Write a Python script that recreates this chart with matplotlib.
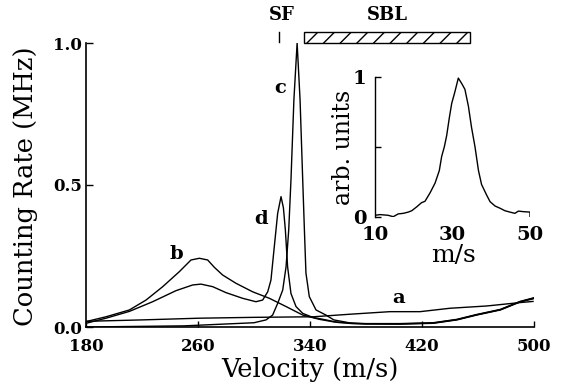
import matplotlib
matplotlib.use("Agg")
import matplotlib.pyplot as plt
from matplotlib.patches import Rectangle

# ---- data ----
a_v = [180, 220, 261, 300, 342.4, 368.6, 397.1, 418.6, 440, 466.2, 490, 499.3]
a_y = [0.020, 0.025, 0.031, 0.034, 0.036, 0.045, 0.054, 0.054, 0.066, 0.074, 0.086, 0.090]

b_v = [180, 194.3, 211, 222.9, 234.8, 246.7, 255, 261, 266.9, 271.7, 277.6, 287.1,
       299, 311, 322.9, 334.8, 346.7, 357, 370, 380, 404, 428, 445, 459, 476, 490, 500]
b_y = [0.019, 0.036, 0.060, 0.095, 0.142, 0.195, 0.236, 0.242, 0.236, 0.210, 0.183, 0.154,
       0.124, 0.101, 0.072, 0.042, 0.027, 0.018, 0.014, 0.012, 0.012, 0.015, 0.027, 0.044,
       0.062, 0.090, 0.103]

c_v = [180, 250, 300, 308.6, 313.3, 316.9, 320.5, 322.9, 324.8, 326.4, 328.5, 330.8,
       332.9, 334.8, 336, 337.1, 339.5, 344.3, 351.4, 357, 370, 380, 404, 428, 445,
       459, 476, 490, 500]
c_y = [0.000, 0.004, 0.015, 0.025, 0.042, 0.083, 0.130, 0.212, 0.342, 0.517, 0.800, 1.000,
       0.800, 0.517, 0.342, 0.190, 0.107, 0.060, 0.042, 0.025, 0.013, 0.011, 0.010, 0.013,
       0.025, 0.042, 0.060, 0.088, 0.100]

d_v = [180, 194.3, 211, 227.6, 244.3, 256.2, 262.1, 270.5, 280, 291.9, 301.4, 306.2,
       309.8, 312.1, 314.5, 316.9, 319.3, 321, 322.4, 324, 326.4, 330, 334.8, 341.9,
       351.4, 360, 370, 380, 404, 428, 445, 459, 476, 490, 500]
d_y = [0.013, 0.031, 0.055, 0.089, 0.128, 0.148, 0.151, 0.142, 0.121, 0.101, 0.089, 0.095,
       0.124, 0.165, 0.283, 0.400, 0.459, 0.420, 0.342, 0.212, 0.118, 0.072, 0.048, 0.034,
       0.025, 0.016, 0.012, 0.011, 0.011, 0.014, 0.026, 0.043, 0.061, 0.089, 0.102]

inset_v = [10, 11.3, 13.4, 14.7, 16, 17.3, 18.6, 19.5, 20.75, 22, 22.9, 24.2, 25.5, 26.6,
           27.2, 27.9, 28.5, 29.2, 29.8, 30.6, 31.5, 32.4, 33.2, 34.1, 34.9, 35.8, 36.7,
           37.5, 38.8, 39.7, 41, 42.3, 43.5, 44.8, 46.1, 47, 48.3, 50, 50]
inset_y = [0.01, 0.015, 0.01, 0.0, 0.02, 0.024, 0.033, 0.043, 0.07, 0.10, 0.11, 0.17,
           0.24, 0.33, 0.43, 0.50, 0.58, 0.71, 0.81, 0.89, 0.99, 0.95, 0.91, 0.79, 0.64,
           0.50, 0.33, 0.23, 0.155, 0.107, 0.076, 0.06, 0.043, 0.033, 0.024, 0.04, 0.036,
           0.033, 0.0]

x_ticks = [180, 260, 340, 420, 500]
y_ticks = [0.0, 0.5, 1.0]
y_ticklabels = ["0.0", "0.5", "1.0"]
inset_xticks = [10, 30, 50]
inset_yticks = [0, 0.5, 1]
inset_yticklabels = ["0", "", "1"]

curve_labels = {"a": (403, 0.101), "b": (244.3, 0.257), "c": (319, 0.843), "d": (305, 0.379)}
sf_pos = 318
sbl_range = (336, 454)

# ---- figure ----
serif = "DejaVu Serif"
plt.rcParams["font.family"] = serif
plt.rcParams["hatch.linewidth"] = 1.0

fig = plt.figure(figsize=(5.63, 3.87), dpi=100)
ax = fig.add_axes([86/563, 1-327/387, (534-86)/563, (327-43)/387])

lw = 1.0
for v, y in [(a_v, a_y), (b_v, b_y), (c_v, c_y), (d_v, d_y)]:
    ax.plot(v, y, color="black", lw=lw)

ax.set_xlim(180, 500)
ax.set_ylim(0, 1.0)
ax.spines["top"].set_visible(False)
ax.spines["right"].set_visible(False)
for s in ["left", "bottom"]:
    ax.spines[s].set_linewidth(1.2)
ax.set_xticks(x_ticks)
ax.set_xticklabels([str(t) for t in x_ticks], fontweight="bold", fontsize=12)
ax.set_yticks(y_ticks)
ax.set_yticklabels(y_ticklabels, fontweight="bold", fontsize=12)
ax.tick_params(axis="x", direction="in", length=4.5, width=1.0, pad=8)
ax.tick_params(axis="y", direction="in", length=5, width=1.0, pad=3)

fig.text(310/563, 1-370/387, "Velocity (m/s)", ha="center", va="center", fontsize=18.5)
fig.text(26/563, 1-186/387, "Counting Rate (MHz)", ha="center", va="center",
         rotation=90, fontsize=18.5)

for lab, (xv, yv) in curve_labels.items():
    ax.text(xv, yv, lab, ha="center", va="center", fontsize=14, fontweight="bold")

# SF marker and SBL bar above the plot
ax.plot([sf_pos, sf_pos], [1.005, 1.04], color="black", lw=1.0, clip_on=False)
ax.text(320, 1.10, "SF", ha="center", va="center", fontsize=13, fontweight="bold")
ax.text(395, 1.10, "SBL", ha="center", va="center", fontsize=13, fontweight="bold")
rect = Rectangle((sbl_range[0], 1.0), sbl_range[1]-sbl_range[0], 0.04,
                 facecolor="white", edgecolor="black", hatch="//", lw=1.0,
                 clip_on=False)
ax.add_patch(rect)

# ---- inset ----
ins = fig.add_axes([375/563, 1-216.7/387, (530-375)/563, (216.7-76.7)/387])
ins.plot(inset_v, inset_y, color="black", lw=1.0)
ins.set_xlim(10, 50)
ins.set_ylim(0, 1)
for s in ["top", "right", "bottom"]:
    ins.spines[s].set_visible(False)
ins.spines["left"].set_linewidth(1.0)
ins.set_xticks(inset_xticks)
ins.set_xticklabels([str(t) for t in inset_xticks], fontweight="bold", fontsize=14)
ins.set_yticks(inset_yticks)
ins.set_yticklabels(inset_yticklabels, fontweight="bold", fontsize=14)
ins.tick_params(axis="x", length=0, pad=7)
ins.tick_params(axis="y", direction="in", length=4, width=1.0, pad=6)
ins.patch.set_alpha(0)
fig.text(453/563, 1-256/387, "m/s", ha="center", va="center", fontsize=18)
fig.text(343/563, 1-147/387, "arb. units", ha="center", va="center",
         rotation=90, fontsize=17)

fig.savefig("out.png", dpi=100)
